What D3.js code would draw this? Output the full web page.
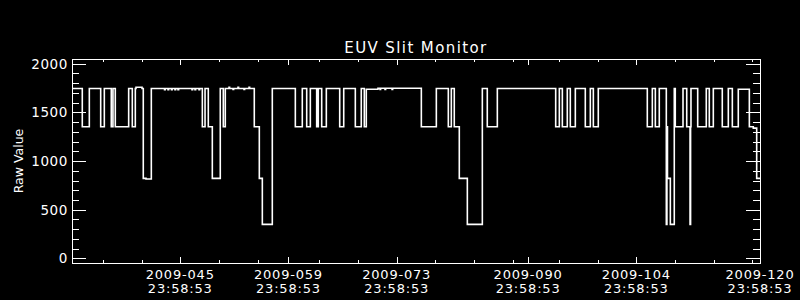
<!DOCTYPE html>
<html>
<head>
<meta charset="utf-8">
<script src="https://cdn.jsdelivr.net/npm/d3@7"></script>
<style>
	body { margin: 0; background: black; }
	text { fill: white; font-family: "DejaVu Sans", sans-serif; }
</style>
</head>
<body>
<div id="vis"></div>
<script>
var w = 800;
var h = 300;
var plotL = 72, plotR = 760, plotT = 59, plotB = 263;

// tijdstippen (dag van het jaar, fractie) waarop het signaal verspringt
var stepTimes = [
	32.00, 33.33, 34.24, 35.71, 36.18, 37.08, 37.30, 37.60, 39.33, 39.80,
	40.19, 40.28, 41.06, 41.22, 41.57, 42.26,
	43.97, 44.05, 44.42, 44.50, 44.87, 44.95, 45.32, 45.40, 45.71, 45.79,
	47.52, 47.60, 47.91, 47.99, 48.43, 48.51,
	48.86, 49.21, 49.63, 50.15, 51.18, 51.57, 51.83,
	52.31, 52.39, 52.83, 52.91, 53.47, 53.55, 54.25, 54.33, 54.90, 54.98,
	55.58, 56.23, 56.62, 57.91, 60.89, 61.79, 62.36, 62.83, 63.65, 63.86,
	64.30, 64.90, 66.63, 67.15, 68.65, 69.42, 69.81, 70.07, 71.58,
	71.84, 71.92, 72.49, 72.57, 73.40, 73.48,
	77.19, 79.13, 80.68, 81.07, 81.45, 82.10, 83.14, 85.08, 85.72, 87.02,
	94.57, 95.04, 95.43, 96.07, 96.46, 97.11, 98.40, 99.05, 99.44, 100.08,
	106.42, 107.07, 107.46, 107.97, 108.88, 108.96, 109.03, 109.40, 109.91, 110.04,
	111.04, 111.52, 111.95, 112.02, 112.07, 112.94, 114.05, 114.44, 114.96, 116.12,
	116.90, 117.42, 118.19, 119.62, 120.13, 120.57, 121.00
];
// ruwe waarde vanaf elk tijdstip
var stepValues = [
	1745, 1352, 1745, 1352, 1745, 1352, 1745, 1352, 1745, 1352,
	1745, 1758, 1745, 822, 815, 1745,
	1733, 1745, 1733, 1745, 1733, 1745, 1733, 1745, 1733, 1745,
	1733, 1745, 1733, 1745, 1733, 1745,
	1352, 1745, 1352, 822, 1745, 1352, 1745,
	1757, 1745, 1735, 1745, 1757, 1745, 1735, 1745, 1757, 1745,
	1352, 822, 349, 1745, 1352, 1745, 1352, 1745, 1352, 1745,
	1352, 1745, 1352, 1745, 1352, 1745, 1352, 1737, 1748,
	1736, 1748, 1736, 1748, 1736, 1748,
	1352, 1745, 1352, 1745, 1352, 822, 349, 1745, 1352, 1745,
	1352, 1745, 1352, 1745, 1352, 1745, 1352, 1745, 1352, 1745,
	1352, 1745, 1352, 1745, 349, 1352, 822, 349, 1745, 1352,
	1745, 1352, 349, 1352, 1745, 1352, 1745, 1352, 1745, 1352,
	1745, 1352, 1737, 1352, 1338, 822, 822
];

// as labels
var majorDays = [45, 59, 73, 90, 104, 120];
var majorLabels = ["2009-045", "2009-059", "2009-073", "2009-090", "2009-104", "2009-120"];
var timeLabel = "23:58:53";
var minorDays = [35, 40, 50, 55, 63, 68, 78, 83, 88, 94, 99, 109, 114, 119];
var yMajor = [0, 500, 1000, 1500, 2000];
var yMinor = d3.range(100, 2000, 100).filter(function(v) { return v % 500 != 0; });

var dayfrac = (23 * 3600 + 58 * 60 + 53) / 86400;

var svg = d3.select("#vis")
	.append("svg")
	.attr("width", w)
	.attr("height", h);

svg.append("rect").attr("width", w).attr("height", h).attr("fill", "black");

var x = d3.scaleLinear().domain([31 + dayfrac, 120 + dayfrac]).range([plotL, plotR]);
var y = d3.scaleLinear().domain([-47.3, 2048.3]).range([plotB, plotT]);

//titel
svg.append("text")
	.text("EUV Slit Monitor")
	.attr("x", (plotL + plotR) / 2)
	.attr("y", 53)
	.attr("text-anchor", "middle")
	.style("font-size", "15px")
	.style("letter-spacing", "1.4px");

//y as label
svg.append("text")
	.text("Raw Value")
	.attr("transform", "translate(23," + ((plotT + plotB) / 2) + ") rotate(-90)")
	.attr("text-anchor", "middle")
	.style("font-size", "12.5px");

//kader
svg.append("rect")
	.attr("x", plotL + 0.5)
	.attr("y", plotT + 0.5)
	.attr("width", plotR - plotL)
	.attr("height", plotB - plotT)
	.attr("fill", "none")
	.attr("stroke", "white")
	.attr("stroke-width", 1);

// y ticks links en rechts
function yticks(vals, len) {
	vals.forEach(function(v) {
		var yy = Math.round(y(v)) + 0.5;
		svg.append("line").attr("x1", plotL).attr("x2", plotL + len)
			.attr("y1", yy).attr("y2", yy).attr("stroke", "white");
		svg.append("line").attr("x1", plotR).attr("x2", plotR - len)
			.attr("y1", yy).attr("y2", yy).attr("stroke", "white");
	});
}
yticks(yMajor, 14);
yticks(yMinor, 7);

svg.selectAll(".ylab")
	.data(yMajor)
	.enter()
	.append("text")
	.attr("class", "ylab")
	.text(function(d) { return d; })
	.attr("x", 68)
	.attr("y", function(d) { return y(d) + 5; })
	.attr("text-anchor", "end")
	.style("font-size", "13.5px")
	.style("letter-spacing", "0.6px");

// x ticks onder en boven
function xticks(days, len) {
	days.forEach(function(d) {
		var xx = Math.round(x(d + dayfrac)) + 0.5;
		svg.append("line").attr("x1", xx).attr("x2", xx)
			.attr("y1", plotB).attr("y2", plotB - len).attr("stroke", "white");
		svg.append("line").attr("x1", xx).attr("x2", xx)
			.attr("y1", plotT).attr("y2", plotT + len).attr("stroke", "white");
	});
}
xticks(majorDays, 6);
xticks(minorDays, 3);

// datum en tijd onder elke hoofdtick
svg.selectAll(".xlab")
	.data(majorDays)
	.enter()
	.append("text")
	.attr("class", "xlab")
	.text(function(d, i) { return majorLabels[i]; })
	.attr("x", function(d) { return x(d + dayfrac); })
	.attr("y", 278.5)
	.attr("text-anchor", "middle")
	.style("font-size", "13px")
	.style("letter-spacing", "0.8px");

svg.selectAll(".tlab")
	.data(majorDays)
	.enter()
	.append("text")
	.attr("class", "tlab")
	.text(timeLabel)
	.attr("x", function(d) { return x(d + dayfrac); })
	.attr("y", 292.5)
	.attr("text-anchor", "middle")
	.style("font-size", "13px")
	.style("letter-spacing", "0.8px");

// signaal
var data = stepTimes.map(function(t, i) { return {t: t, v: stepValues[i]}; });

var line = d3.line()
	.x(function(d) { return x(d.t); })
	.y(function(d) { return y(d.v); })
	.curve(d3.curveStepAfter);

svg.append("path")
	.datum(data)
	.attr("d", line)
	.attr("fill", "none")
	.attr("stroke", "white")
	.attr("stroke-width", 1.6);
</script>
</body>
</html>
